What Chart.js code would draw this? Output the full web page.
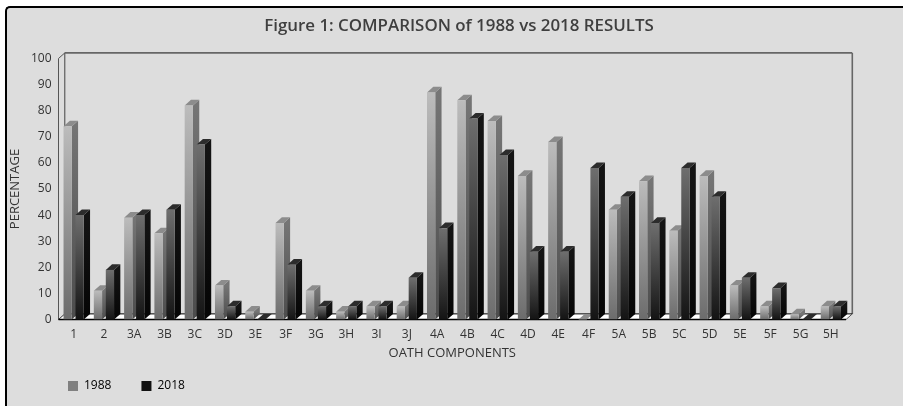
<!DOCTYPE html>
<html>
<head>
<meta charset="utf-8">
<style>
  html, body { margin: 0; padding: 0; background: #fff; width: 903px; height: 406px; overflow: hidden; }
  #panel { position: absolute; left: 5px; top: 6px; width: 896px; height: 398px; padding-bottom: 2px; background: #ddd;
           border-left: 2px solid #000; border-top: 2px solid #000; border-top-left-radius: 5px; }
  #wrap { position: absolute; left: 0; top: 0; width: 903px; height: 406px; }
</style>
</head>
<body>
<div id="panel"></div>
<div id="wrap"><canvas id="myChart" width="903" height="406"></canvas></div>
<script src="https://cdn.jsdelivr.net/npm/chart.js"></script>
<script>
  const categories = ["1", "2", "3A", "3B", "3C", "3D", "3E", "3F", "3G", "3H", "3I", "3J", "4A",
    "4B", "4C", "4D", "4E", "4F", "5A", "5B", "5C", "5D", "5E", "5F", "5G", "5H"];
  const values1988 = [74, 11, 39, 33, 82, 13, 3, 37, 11, 3, 5, 5, 87, 84, 76, 55, 68, 0, 42, 53, 34, 55, 13, 5, 2, 5];
  const values2018 = [40, 19, 40, 42, 67, 5, 0, 21, 5, 5, 5, 16, 35, 77, 63, 26, 26, 58, 47, 37, 58, 47, 16, 12, 0, 5];
  const yTicks = [0, 10, 20, 30, 40, 50, 60, 70, 80, 90, 100];

  const depthX = 6.3;
  const depthY = 5.6;
  const textColor = "#333";
  const fontFamily = "'Open Sans', sans-serif";

  const faces = [
    { front: ["#bcbcbc", "#6c6c6c"], side: ["#757575", "#4c4c4c"], top: "#8c8c8c" },
    { front: ["#6e6e6e", "#141414"], side: ["#141414", "#050505"], top: "#2c2c2c" },
  ];

  function vertical(ctx, y0, y1, colors) {
    const g = ctx.createLinearGradient(0, y0, 0, y1);
    g.addColorStop(0, colors[0]);
    g.addColorStop(1, colors[1]);
    return g;
  }

  function frontFill(index) {
    return (c) => {
      const y = c.chart.scales.y;
      if (!y || c.parsed === undefined || !c.parsed.y) return faces[index].front[0];
      return vertical(c.chart.ctx, y.getPixelForValue(c.parsed.y), y.getPixelForValue(0), faces[index].front);
    };
  }

  function poly(ctx, pts, fill) {
    ctx.fillStyle = fill;
    ctx.beginPath();
    pts.forEach((p, i) => (i ? ctx.lineTo(p[0], p[1]) : ctx.moveTo(p[0], p[1])));
    ctx.closePath();
    ctx.fill();
  }

  function drawFaces(chart, index) {
    const ctx = chart.ctx;
    chart.getDatasetMeta(index).data.forEach((bar) => {
      const { x, y, base, width } = bar.getProps(["x", "y", "base", "width"], true);
      const l = x - width / 2;
      const r = x + width / 2;
      poly(ctx, [[r, y], [r + depthX, y - depthY], [r + depthX, base - depthY], [r, base]],
        vertical(ctx, y, base, faces[index].side));
      poly(ctx, [[l, y], [l + depthX, y - depthY], [r + depthX, y - depthY], [r, y]], faces[index].top);
    });
  }

  // fake 3d: walls + floor behind the bars, side and top faces for every bar
  const box3d = {
    id: "box3d",
    afterLayout(chart) {
      chart.titleBlock.left = 15;
      chart.titleBlock.right = 903;
      chart.legend.left = 38;
      chart.legend.top = 350;
    },
    beforeDatasetsDraw(chart) {
      const { ctx, chartArea: a } = chart;
      const line = (x0, y0, x1, y1, color, w) => {
        ctx.strokeStyle = color;
        ctx.lineWidth = w;
        ctx.beginPath();
        ctx.moveTo(x0, y0);
        ctx.lineTo(x1, y1);
        ctx.stroke();
      };
      ctx.save();
      poly(ctx, [[a.left, a.bottom], [a.right, a.bottom], [a.right + depthX, a.bottom - depthY], [a.left + depthX, a.bottom - depthY]], "#fff");
      line(a.left, a.top, a.left, a.bottom, "#555", 1);
      line(a.left, a.top, a.left + depthX, a.top - depthY, "#555", 1);
      line(a.left + depthX, a.top - depthY, a.left + depthX, a.bottom - depthY, "#444", 1);
      line(a.left + depthX, a.top - depthY, a.right + depthX, a.top - depthY, "#666", 1.6);
      line(a.right + depthX, a.top - depthY, a.right + depthX, a.bottom - depthY, "#666", 1.6);
      line(a.left + depthX, a.bottom - depthY, a.right + depthX, a.bottom - depthY, "#000", 1);
      line(a.left, a.bottom, a.left + depthX, a.bottom - depthY, "#333", 1);
      line(a.right, a.bottom, a.right + depthX, a.bottom - depthY, "#555", 1);
      line(a.left, a.bottom, a.right, a.bottom, "#000", 1.5);
      ctx.restore();
    },
    // 2018 has to sit in front of the 1988 side face, so it is drawn after 1988
    beforeDatasetDraw(chart, args) {
      if (args.index === 1) return false;
      drawFaces(chart, 0);
    },
    afterDatasetDraw(chart, args) {
      if (args.index !== 0) return;
      drawFaces(chart, 1);
      chart.getDatasetMeta(1).data.forEach((bar) => bar.draw(chart.ctx));
    },
  };

  new Chart(document.getElementById("myChart"), {
    type: "bar",
    data: {
      labels: categories,
      datasets: [
        { label: "1988", data: values1988, backgroundColor: frontFill(0), borderWidth: 0 },
        { label: "2018", data: values2018, backgroundColor: frontFill(1), borderWidth: 0 },
      ],
    },
    options: {
      responsive: false,
      animation: false,
      categoryPercentage: 0.79,
      barPercentage: 0.69,
      layout: { padding: { left: 0, right: 57, top: 0, bottom: -7.5 } },
      scales: {
        x: {
          grid: { display: false, drawTicks: false },
          border: { display: false },
          ticks: {
            autoSkip: false,
            maxRotation: 0,
            padding: 8,
            color: textColor,
            font: { family: fontFamily, size: 12 },
          },
          title: {
            display: true,
            text: "OATH COMPONENTS",
            color: textColor,
            padding: { top: 0, bottom: 0 },
            font: { family: fontFamily, size: 13 },
          },
          afterFit(scale) { scale.height = 42; },
        },
        y: {
          min: 0,
          max: 100,
          afterBuildTicks(scale) { scale.ticks = yTicks.map((v) => ({ value: v })); },
          grid: { display: false, drawTicks: false },
          border: { display: false },
          ticks: {
            padding: 7,
            color: textColor,
            font: { family: fontFamily, size: 12 },
          },
          title: {
            display: true,
            text: "PERCENTAGE",
            color: textColor,
            padding: { top: 7, bottom: 0 },
            font: { family: fontFamily, size: 13 },
          },
          afterFit(scale) { scale.width = 58.5; },
        },
      },
      plugins: {
        title: {
          display: true,
          text: "Figure 1: COMPARISON of 1988 vs 2018 RESULTS",
          color: "#3f3f3f",
          padding: { top: 16, bottom: 22.2 },
          font: { family: fontFamily, size: 16.9, weight: "600", lineHeight: 1.2 },
        },
        legend: {
          position: "bottom",
          align: "start",
          labels: {
            boxWidth: 10,
            boxHeight: 10,
            padding: 30,
            color: textColor,
            font: { family: fontFamily, size: 12 },
            generateLabels: () => [
              { text: "1988", fillStyle: "#808080", strokeStyle: "#808080", lineWidth: 0, datasetIndex: 0 },
              { text: "2018", fillStyle: "#111111", strokeStyle: "#111111", lineWidth: 0, datasetIndex: 1 },
            ],
          },
        },
        tooltip: { enabled: false },
      },
    },
    plugins: [box3d],
  });
</script>
</body>
</html>
